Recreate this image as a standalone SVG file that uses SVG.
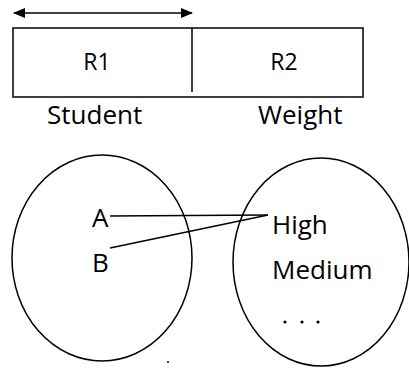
<svg xmlns="http://www.w3.org/2000/svg" width="409" height="371" viewBox="0 0 409 371">
<style>
text{font-family:"Open Sans","Liberation Sans",sans-serif;fill:#000;}
.l{stroke:#000;stroke-width:1.5;fill:none;}
.t{font-size:23px;}
.s{font-size:26px;}
</style>
<defs>
<marker id="ah" markerWidth="12" markerHeight="10" refX="11" refY="5" orient="auto-start-reverse" markerUnits="userSpaceOnUse">
<path d="M0,0 L12,5 L0,10 Z" fill="#000"/>
</marker>
</defs>
<rect width="409" height="371" fill="#fff"/>
<g id="span">
<line class="l" x1="14" y1="13" x2="192" y2="13" marker-start="url(#ah)" marker-end="url(#ah)"/>
</g>
<g id="record">
<rect class="l" x="13" y="28" width="350" height="69"/>
<line class="l" x1="192" y1="28" x2="192" y2="92"/>
<text class="t" x="97" y="70" text-anchor="middle">R1</text>
<text class="t" x="284" y="70" text-anchor="middle">R2</text>
</g>
<g id="labels">
<text class="s" x="47" y="124">Student</text>
<text class="s" x="258" y="124">Weight</text>
</g>
<g id="students">
<ellipse class="l" cx="102" cy="258" rx="90" ry="103"/>
<text class="s" x="92" y="227">A</text>
<text class="s" x="92" y="272">B</text>
</g>
<g id="weights">
<ellipse class="l" cx="321" cy="262" rx="88" ry="104"/>
<text class="s" x="272" y="234">High</text>
<text class="s" x="272" y="279">Medium</text>
<circle cx="285" cy="322" r="1.6"/>
<circle cx="302" cy="322" r="1.6"/>
<circle cx="318" cy="322" r="1.6"/>
</g>
<g id="connectors">
<line class="l" x1="110" y1="216" x2="268" y2="215"/>
<line class="l" x1="110" y1="248" x2="268" y2="215"/>
</g>
<circle cx="168" cy="362" r="1" fill="#000"/>
</svg>
